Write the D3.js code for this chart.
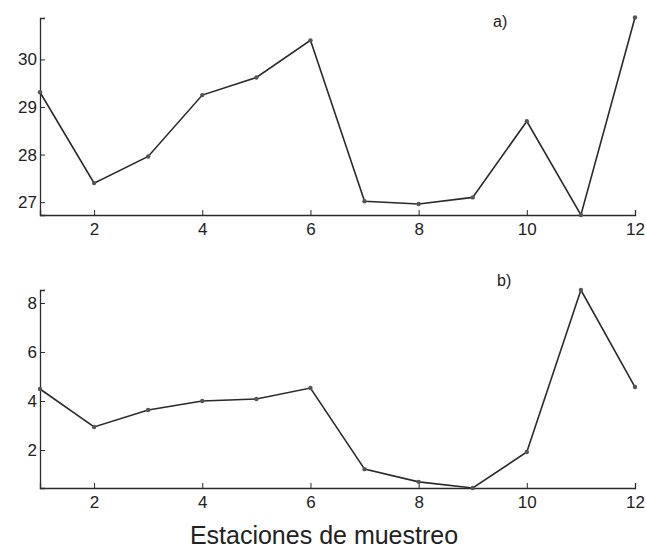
<!DOCTYPE html>
<html>
<head>
<meta charset="utf-8">
<script src="https://cdn.jsdelivr.net/npm/d3@7"></script>
<style>
  body { margin: 0; background: #fff; }
  svg text { font-family: "Liberation Sans", Arial, sans-serif; fill: #222; }
</style>
</head>
<body>
<svg id="chart" width="646" height="550"></svg>
<script>
// stations (x values)
const stations = [1, 2, 3, 4, 5, 6, 7, 8, 9, 10, 11, 12]
// panel a) values
const seriesA = [29.31, 27.40, 27.96, 29.25, 29.62, 30.40, 27.02, 26.96, 27.10, 28.70, 26.73, 30.88]
// panel b) values
const seriesB = [4.49, 2.94, 3.63, 4.00, 4.08, 4.53, 1.22, 0.70, 0.45, 1.92, 8.53, 4.57]
const xTicks = [2, 4, 6, 8, 10, 12]
const yTicksA = [27, 28, 29, 30]
const yTicksB = [2, 4, 6, 8]

const svg = d3.select('#chart')

var left   = 40,
    right  = 635,
    ink    = '#2a2a2a'

var x = d3.scaleLinear().domain([1, 12]).range([left, right])

const drawPanel = (values, yDomain, yRange, yTicks, label, labelPos) => {
  var y = d3.scaleLinear().domain(yDomain).range(yRange)
  var g = svg.append('g')

  // x axis (ticks inward)
  var xAxis = d3.axisBottom(x).tickValues(xTicks).tickSize(-5).tickPadding(8).tickFormat(d3.format('d'))
  var gx = g.append('g')
    .attr('transform', `translate(0,${yRange[0]})`)
    .call(xAxis)
  gx.select('.domain').attr('stroke', ink).attr('stroke-width', 1.3)
  gx.selectAll('.tick line').attr('stroke', ink)
  gx.selectAll('.tick text').attr('font-size', 17).attr('fill', '#222')

  // y axis
  var yAxis = d3.axisLeft(y).tickValues(yTicks).tickSize(-5).tickPadding(3).tickFormat(d3.format('d'))
  var gy = g.append('g')
    .attr('transform', `translate(${left},0)`)
    .call(yAxis)
  gy.select('.domain').attr('stroke', ink).attr('stroke-width', 1.3)
  gy.selectAll('.tick line').attr('stroke', ink)
  gy.selectAll('.tick text').attr('font-size', 17).attr('fill', '#222')

  var line = d3.line()
    .x((d, i) => x(stations[i]))
    .y(d => y(d))

  g.append('path')
    .datum(values)
    .attr('fill', 'none')
    .attr('stroke', ink)
    .attr('stroke-width', 1.6)
    .attr('d', line)

  g.selectAll('circle')
    .data(values)
    .join('circle')
      .attr('cx', (d, i) => x(stations[i]))
      .attr('cy', d => y(d))
      .attr('r', 2.2)
      .attr('fill', '#555')

  g.append('text')
    .attr('x', labelPos[0])
    .attr('y', labelPos[1])
    .attr('font-size', 16)
    .text(label)
}

drawPanel(seriesA, [26.73, 30.87], [215, 18], yTicksA, 'a)', [493, 27])
drawPanel(seriesB, [0.45, 8.53], [488, 290], yTicksB, 'b)', [497, 286])

svg.append('text')
  .attr('x', 324)
  .attr('y', 544)
  .attr('text-anchor', 'middle')
  .attr('font-size', 25)
  .text('Estaciones de muestreo')
</script>
</body>
</html>
